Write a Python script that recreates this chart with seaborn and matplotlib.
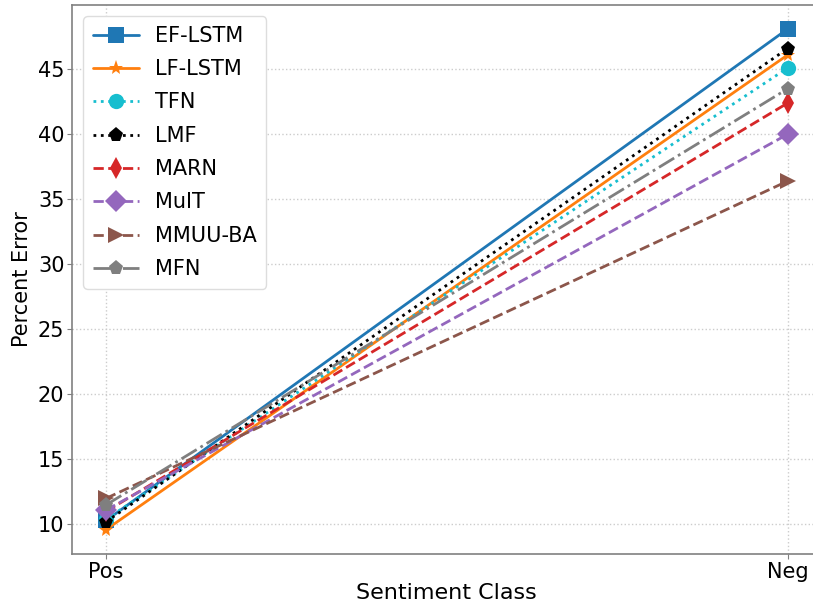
import matplotlib
matplotlib.use("Agg")
import matplotlib.pyplot as plt
import numpy as np
import pandas as pd
import seaborn as sns

classes = ["Pos", "Neg"]
models = ["EF-LSTM", "LF-LSTM", "TFN", "LMF", "MARN", "MuIT", "MMUU-BA", "MFN"]
pos_err = [10.3, 9.6, 10.4, 10.2, 11.0, 11.1, 12.0, 11.5]
neg_err = [48.1, 46.1, 45.1, 46.6, 42.4, 40.0, 36.4, 43.5]

colors = ["#1f77b4", "#ff7f0e", "#17becf", "black", "#d62728", "#9467bd", "#8c564b", "#7f7f7f"]
markers = ["s", "*", "o", "p", "d", "D", ">", "p"]
styles = ["-", "-", ":", ":", "--", "--", "--", "-."]

rows = []
for m, p, n in zip(models, pos_err, neg_err):
    rows.append({"model": m, "cls": 0, "err": p})
    rows.append({"model": m, "cls": 1, "err": n})
df = pd.DataFrame(rows)

sns.set_style("ticks", {"text.color": "black", "axes.labelcolor": "black",
                        "xtick.color": "black", "ytick.color": "black"})
plt.rcParams["font.family"] = ["DejaVu Sans"]

fig = plt.figure(figsize=(8.13, 6.06), dpi=100)
ax = fig.add_axes([0.0886, 0.0858, 0.922, 0.906])

for i, m in enumerate(models):
    sub = df[df["model"] == m]
    sns.lineplot(data=sub, x="cls", y="err", ax=ax, color=colors[i],
                 marker=markers[i], linestyle=styles[i], linewidth=2,
                 markersize=11, markeredgewidth=0, label=m, sort=False)

ax.set_xlim(-0.05, 1.05)
ax.set_ylim(7.72, 49.95)
ax.set_xticks(range(len(classes)))
ax.set_xticklabels(classes)
ax.set_xlabel("Sentiment Class", fontsize=16, labelpad=1)
ax.set_ylabel("Percent Error", fontsize=15, labelpad=4)
ax.tick_params(labelsize=15, color="#808080", pad=2)
ax.grid(True, linestyle=":", color="#cccccc", linewidth=1)
for s in ax.spines.values():
    s.set_color("#808080")
    s.set_linewidth(1.2)

ax.legend(loc="upper left", fontsize=15, frameon=True, handlelength=2.2,
          labelspacing=0.64, borderpad=0.45, framealpha=1, edgecolor="#dddddd",
          borderaxespad=0.55)

fig.savefig("out.png", dpi=100)
